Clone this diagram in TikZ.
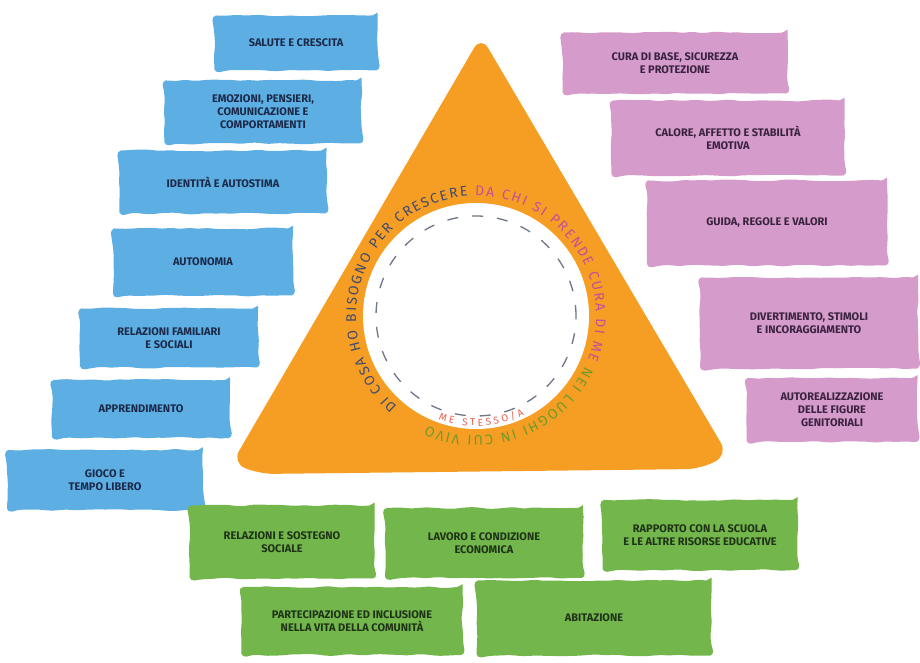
\documentclass[tikz,border=0pt]{standalone}
\usepackage{fontspec}
\setmainfont{Fira Sans}
\usetikzlibrary{decorations.text,decorations.pathmorphing}
\definecolor{needblue}{RGB}{93,174,226}
\definecolor{carepink}{RGB}{213,155,203}
\definecolor{placegreen}{RGB}{115,182,76}
\definecolor{triorange}{RGB}{246,158,35}
\definecolor{needtext}{RGB}{27,42,74}
\definecolor{caretext}{RGB}{58,35,64}
\definecolor{placetext}{RGB}{30,51,23}
\definecolor{ringblue}{RGB}{62,74,114}
\definecolor{ringpink}{RGB}{194,80,154}
\definecolor{ringgreen}{RGB}{110,155,43}
\definecolor{mered}{RGB}{229,96,78}
\definecolor{dashgray}{RGB}{111,118,135}
\begin{document}
\begin{tikzpicture}[x=1pt,y=1pt,
	wh/.style 2 args={minimum width=#1pt,minimum height=#2pt},
	box/.style={inner sep=2pt,align=center,font=\bfseries\fontsize{11}{13}\selectfont,
		rounded corners=5pt,decorate,decoration={random steps,segment length=9pt,amplitude=1pt}},
	need/.style={box,fill=needblue,text=needtext},
	care/.style={box,fill=carepink,text=caretext},
	place/.style={box,fill=placegreen,text=placetext}]
	\pgfmathsetseed{11}
	\useasboundingbox (0,0) rectangle (920,663);
	\fill[triorange,rounded corners=14pt] (481,627)--(728,208)--(700,194)--(260,189)--(232,200)--cycle;
	\coordinate (c) at (476,347);
	\node[circle,fill=white,minimum size=226pt,inner sep=0] (me) at (c) {};
	\draw[dashgray,line width=1.3pt,dash pattern=on 11pt off 14pt] (c) circle[radius=100];
	\path[decorate,decoration={text along path,text align=fit to path,
		text={|\fontsize{14}{14}\selectfont\color{ringblue}|DI COSA HO BISOGNO PER CRESCERE |\fontsize{14}{14}\selectfont\color{ringpink}|DA CHI SI PRENDE CURA DI ME |\fontsize{14}{14}\selectfont\color{ringgreen}|NEI LUOGHI IN CUI VIVO}}]
		([shift={(229:120)}]c) arc[start angle=229,end angle=-114,radius=120];
	\path[decorate,decoration={text along path,text align=fit to path,
		text={|\fontsize{10}{10}\selectfont\color{mered}|ME STESSO/A}}]
		([shift={(-110:110)}]c) arc[start angle=-110,end angle=-64,radius=110];
	\node[need,wh={163}{55}] (salute) at (296,620) {SALUTE E CRESCITA};
	\node[need,wh={197}{63}] (emozioni) at (263,551) {EMOZIONI, PENSIERI,\\COMUNICAZIONE E\\COMPORTAMENTI};
	\node[need,wh={207}{63}] (identita) at (223,481) {IDENTITÀ E AUTOSTIMA};
	\node[need,wh={180}{67}] (autonomia) at (203,401) {AUTONOMIA};
	\node[need,wh={178}{59}] (relazioni) at (169,325) {RELAZIONI FAMILIARI\\E SOCIALI};
	\node[need,wh={178}{58}] (apprend) at (141,254) {APPRENDIMENTO};
	\node[need,wh={196}{60}] (gioco) at (105,183) {GIOCO E\\TEMPO LIBERO};
	\node[care,wh={225}{61}] (curabase) at (675,600) {CURA DI BASE, SICUREZZA\\E PROTEZIONE};
	\node[care,wh={233}{75}] (calore) at (728,525) {CALORE, AFFETTO E STABILITÀ\\EMOTIVA};
	\node[care,wh={240}{85}] (guida) at (767,440) {GUIDA, REGOLE E VALORI};
	\node[care,wh={218}{91}] (diverti) at (809,340) {DIVERTIMENTO, STIMOLI\\E INCORAGGIAMENTO};
	\node[care,wh={171}{64}] (autoreal) at (832,253) {AUTOREALIZZAZIONE\\DELLE FIGURE\\GENITORIALI};
	\node[place,wh={185}{73}] (sostegno) at (282,121) {RELAZIONI E SOSTEGNO\\SOCIALE};
	\node[place,wh={198}{70}] (lavoro) at (484,120) {LAVORO E CONDIZIONE\\ECONOMICA};
	\node[place,wh={195}{70}] (scuola) at (700,128) {RAPPORTO CON LA SCUOLA\\E LE ALTRE RISORSE EDUCATIVE};
	\node[place,wh={221}{68}] (comunita) at (352,42) {PARTECIPAZIONE ED INCLUSIONE\\NELLA VITA DELLA COMUNITÀ};
	\node[place,wh={235}{75}] (abitazione) at (594,45) {ABITAZIONE};
\end{tikzpicture}
\end{document}
